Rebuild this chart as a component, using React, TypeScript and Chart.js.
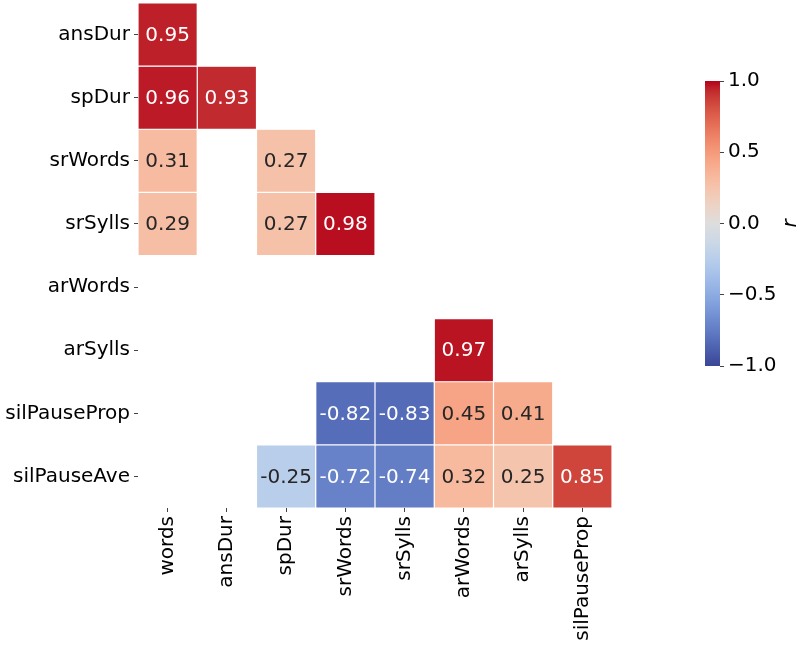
import React, { useEffect, useRef } from "react";
import { Chart, registerables } from "chart.js";

Chart.register(...registerables);

// ---- data ----
const rowLabels = ["ansDur", "spDur", "srWords", "srSylls", "arWords", "arSylls", "silPauseProp", "silPauseAve"];
const colLabels = ["words", "ansDur", "spDur", "srWords", "srSylls", "arWords", "arSylls", "silPauseProp"];

const rAnsDur = [0.95, null, null, null, null, null, null, null];
const rSpDur = [0.96, 0.93, null, null, null, null, null, null];
const rSrWords = [0.31, null, 0.27, null, null, null, null, null];
const rSrSylls = [0.29, null, 0.27, 0.98, null, null, null, null];
const rArWords = [null, null, null, null, null, null, null, null];
const rArSylls = [null, null, null, null, null, 0.97, null, null];
const rSilPauseProp = [null, null, null, -0.82, -0.83, 0.45, 0.41, null];
const rSilPauseAve = [null, null, -0.25, -0.72, -0.74, 0.32, 0.25, 0.85];

const rowValues = [rAnsDur, rSpDur, rSrWords, rSrSylls, rArWords, rArSylls, rSilPauseProp, rSilPauseAve];

const cbarTicks = [-1, -0.5, 0, 0.5, 1];
const cbarLabel = "r";

// ---- coolwarm colormap (blue side slightly muted to match the reference rendering) ----
const COOLWARM_BASE: number[][] = [
  [59, 76, 192], [68, 90, 204], [77, 104, 215], [87, 117, 225], [98, 130, 234], [108, 142, 241],
  [119, 154, 247], [130, 165, 251], [141, 176, 254], [152, 185, 255], [163, 194, 255], [174, 201, 253],
  [184, 208, 249], [194, 213, 244], [204, 217, 238], [213, 219, 230], [221, 221, 221], [229, 216, 209],
  [236, 211, 197], [241, 204, 185], [245, 196, 173], [247, 187, 160], [247, 177, 148], [247, 166, 135],
  [244, 154, 123], [241, 141, 111], [236, 127, 99], [229, 112, 88], [222, 96, 77], [213, 80, 66],
  [203, 62, 56], [192, 40, 47], [180, 4, 38],
];
const COOLWARM: number[][] = COOLWARM_BASE.map((c) => {
  const d = c[2] - c[1];
  if (d <= 0) return c;
  return [c[0], c[1] - 0.06 * d, c[2] - 0.36 * d];
});

function coolwarmRGB(v: number): number[] {
  const t = Math.max(0, Math.min(1, (v + 1) / 2)) * (COOLWARM.length - 1);
  const i = Math.min(Math.floor(t), COOLWARM.length - 2);
  const f = t - i;
  const a = COOLWARM[i];
  const b = COOLWARM[i + 1];
  return [0, 1, 2].map((k) => a[k] + (b[k] - a[k]) * f);
}
function rgbStr(c: number[]) {
  return `rgb(${Math.round(c[0])},${Math.round(c[1])},${Math.round(c[2])})`;
}
function luminance(c: number[]) {
  const lin = c.map((x) => {
    const s = x / 255;
    return s <= 0.03928 ? s / 12.92 : Math.pow((s + 0.055) / 1.055, 2.4);
  });
  return 0.2126 * lin[0] + 0.7152 * lin[1] + 0.0722 * lin[2];
}

const FONT = "'DejaVu Sans', sans-serif";

const annotPlugin = {
  id: "annot",
  afterDatasetsDraw(chart: any) {
    const ctx = chart.ctx;
    ctx.save();
    ctx.font = `20px ${FONT}`;
    ctx.textAlign = "center";
    ctx.textBaseline = "middle";
    chart.data.datasets.forEach((ds: any, di: number) => {
      const meta = chart.getDatasetMeta(di);
      const vals = rowValues[di];
      meta.data.forEach((el: any, j: number) => {
        const v = vals[j];
        if (v === null || v === undefined) return;
        const p = el.getCenterPoint();
        ctx.fillStyle = luminance(COOLWARM_BASE[Math.round(((v + 1) / 2) * 32)]) > 0.408 ? "#262626" : "#ffffff";
        ctx.fillText(v.toFixed(2), p.x, p.y + 1);
      });
    });
    ctx.restore();
  },
};

const cbarTitlePlugin = {
  id: "cbarTitle",
  afterDraw(chart: any) {
    const ctx = chart.ctx;
    const area = chart.chartArea;
    ctx.save();
    ctx.font = `italic 20px ${FONT}`;
    ctx.fillStyle = "#000";
    ctx.textAlign = "center";
    ctx.textBaseline = "middle";
    ctx.translate(101, (area.top + area.bottom) / 2);
    ctx.rotate(-Math.PI / 2);
    ctx.fillText(cbarLabel, 0, 0);
    ctx.restore();
  },
};

export default function App() {
  const mainRef = useRef<HTMLCanvasElement>(null);
  const cbarRef = useRef<HTMLCanvasElement>(null);

  useEffect(() => {
    const datasets = rowValues.map((vals, i) => ({
      label: rowLabels[i],
      data: vals.map((v) => (v === null ? null : [i, i + 1])),
      backgroundColor: vals.map((v) => (v === null ? "rgba(0,0,0,0)" : rgbStr(coolwarmRGB(v)))),
      borderColor: "#ffffff",
      borderWidth: 0.6,
      borderSkipped: false,
      grouped: false,
      barPercentage: 1,
      categoryPercentage: 1,
      inflateAmount: 0,
    }));

    const main = new Chart(mainRef.current!, {
      type: "bar",
      data: { labels: colLabels, datasets: datasets as any },
      options: {
        responsive: false,
        animation: false,
        layout: { padding: { top: 3, right: 38, bottom: 0, left: 0 } },
        plugins: { legend: { display: false }, tooltip: { enabled: false } },
        scales: {
          x: {
            type: "category",
            offset: true,
            grid: { drawOnChartArea: false, drawTicks: true, tickLength: 4, tickColor: "#444", offset: false },
            border: { display: false },
            ticks: {
              autoSkip: false,
              minRotation: 90,
              maxRotation: 90,
              padding: 4,
              color: "#000",
              font: { family: FONT, size: 20 },
            },
            afterFit(scale: any) {
              scale.height = 142;
              scale.paddingLeft = 0;
              scale.paddingRight = 0;
            },
          },
          y: {
            type: "linear",
            min: 0,
            max: 8,
            reverse: true,
            grid: { drawOnChartArea: false, drawTicks: true, tickLength: 4, tickColor: "#444" },
            border: { display: false },
            afterBuildTicks(scale: any) {
              scale.ticks = rowLabels.map((_, i) => ({ value: i + 0.5 }));
            },
            ticks: {
              autoSkip: false,
              padding: 4,
              color: "#000",
              font: { family: FONT, size: 20 },
              callback: (value: any) => rowLabels[Math.floor(Number(value))],
            },
            afterFit(scale: any) {
              scale.width = 138;
              scale.paddingTop = 0;
              scale.paddingBottom = 0;
            },
          },
        },
      },
      plugins: [annotPlugin],
    });

    const cbar = new Chart(cbarRef.current!, {
      type: "bar",
      data: {
        labels: [""],
        datasets: [
          {
            data: [[-1, 1]] as any,
            backgroundColor: (c: any) => {
              const area = c.chart.chartArea;
              if (!area) return "#ddd";
              const g = c.chart.ctx.createLinearGradient(0, area.bottom, 0, area.top);
              COOLWARM.forEach((col, k) => g.addColorStop(k / (COOLWARM.length - 1), rgbStr(col)));
              return g;
            },
            borderWidth: 0,
            barPercentage: 1,
            categoryPercentage: 1,
            inflateAmount: 0,
          },
        ],
      },
      options: {
        responsive: false,
        animation: false,
        layout: { padding: { top: 21, right: 0, bottom: 24, left: 15 } },
        plugins: { legend: { display: false }, tooltip: { enabled: false } },
        scales: {
          x: { display: false },
          y: {
            type: "linear",
            position: "right",
            min: -1,
            max: 1,
            grid: { drawOnChartArea: false, drawTicks: true, tickLength: 4, tickColor: "#444" },
            border: { display: false },
            afterBuildTicks(scale: any) {
              scale.ticks = cbarTicks.map((v) => ({ value: v }));
            },
            ticks: {
              padding: 4,
              color: "#000",
              font: { family: FONT, size: 20 },
              callback: (v: any) => (Number(v) < 0 ? "\u2212" : "") + Math.abs(Number(v)).toFixed(1),
            },
            afterFit(scale: any) {
              scale.width = 80;
              scale.paddingTop = 0;
              scale.paddingBottom = 0;
            },
          },
        },
      },
      plugins: [cbarTitlePlugin],
    });

    return () => {
      main.destroy();
      cbar.destroy();
    };
  }, []);

  return (
    <div style={{ position: "fixed", left: 0, top: 0, width: 800, height: 650, background: "#fff" }}>
      <canvas ref={mainRef} width={650} height={650} style={{ position: "absolute", left: 0, top: 0, width: 650, height: 650 }} />
      <canvas ref={cbarRef} width={110} height={330} style={{ position: "absolute", left: 690, top: 60, width: 110, height: 330 }} />
    </div>
  );
}
